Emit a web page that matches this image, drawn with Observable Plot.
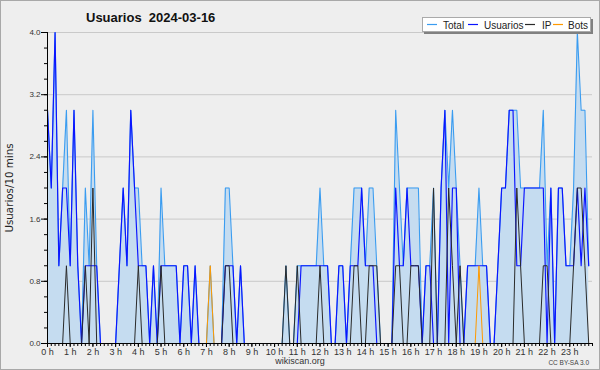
<!DOCTYPE html>
<html><head><meta charset="utf-8">
<script src="https://cdn.jsdelivr.net/npm/d3@7"></script>
<script src="https://cdn.jsdelivr.net/npm/@observablehq/plot@0.6"></script>
<style>
html,body{margin:0;padding:0;background:#eeeeee;}
#chart{width:600px;height:370px;}
svg{display:block;}
</style></head><body><div id="chart"></div>
<script>
// 10-minute intervals, 144 per day
const total = [
3,2,4,1,2,3,1,3,1,0, 2,1,3,1,0,0,0,0,0,1, 2,1,3,2,2,1,1,0,1,0,
2,1,1,1,1,0,1,1,0,1, 0,0,0,1,0,0,0,2,2,1, 0,1,0,0,0,0,0,0,0,0,
0,0,0,1,0,0,1,1,1,1, 1,1,2,1,1,0,0,1,1,0, 1,2,2,2,1,2,2,1,0,0,
0,0,3,2,1,2,2,2,2,0, 1,1,2,0,2,3,2,3,2,1, 0,1,1,1,2,1,1,0,0,1,
2,2,3,3,3,2,2,2,2,2, 2,3,1,2,0,2,2,1,1,2, 4,3,3,1];
const usuarios = [
3,2,4,1,2,2,1,3,1,0, 1,1,1,1,0,0,0,0,0,1, 2,1,3,2,1,1,1,0,1,0,
1,1,1,1,1,0,1,1,0,1, 0,0,0,0,0,0,0,1,1,1, 0,1,0,0,0,0,0,0,0,0,
0,0,0,0,0,0,0,1,1,1, 1,1,1,1,1,0,0,1,1,0, 1,1,1,2,1,1,1,0,0,0,
0,0,2,1,1,2,1,1,1,0, 1,1,0,0,2,3,0,2,2,0, 0,1,1,1,1,1,1,0,0,1,
2,2,3,3,1,1,2,2,2,2, 2,2,0,2,0,2,2,1,1,1, 2,1,2,1];
const ip = [
0,0,0,0,0,1,0,0,0,0, 1,0,2,0,0,0,0,0,0,0, 0,0,0,0,1,0,0,0,0,0,
1,0,0,0,0,0,0,0,0,0, 0,0,0,0,0,0,0,1,1,0, 0,0,0,0,0,0,0,0,0,0,
0,0,0,1,0,0,1,0,0,0, 0,0,1,0,0,0,0,0,0,0, 0,1,1,0,0,1,1,1,0,0,
0,0,1,1,0,0,1,1,1,0, 0,0,2,0,0,0,2,1,0,1, 0,0,0,0,0,0,0,0,0,0,
0,0,0,0,2,1,0,0,0,0, 0,1,1,0,0,0,0,0,0,1, 2,2,1,0];
const bots = [
0,0,0,0,0,0,0,0,0,0, 0,0,0,0,0,0,0,0,0,0, 0,0,0,0,0,0,0,0,0,0,
0,0,0,0,0,0,0,0,0,0, 0,0,0,1,0,0,0,0,0,0, 0,0,0,0,0,0,0,0,0,0,
0,0,0,0,0,0,0,0,0,0, 0,0,0,0,0,0,0,0,0,0, 0,0,0,0,0,0,0,0,0,0,
0,0,0,0,0,0,0,0,0,0, 0,0,0,0,0,0,0,0,0,0, 0,0,0,0,1,0,0,0,0,0,
0,0,0,0,0,0,0,0,0,0, 0,0,0,0,0,0,0,0,0,0, 0,0,0,0];
const hours = d3.range(0, 24);
const hourLabels = hours.map(h => h + " h");
const yTicks = [0, 0.8, 1.6, 2.4, 3.2, 4.0];
const seriesNames = ["Total", "Usuarios", "IP", "Bots"];
const seriesColors = ["#3a9cf0", "#0a14ff", "#2a2a2a", "#ff9a00"];

const rows = total.map((v, i) => ({t: i / 6, total: v, usuarios: usuarios[i], ip: ip[i], bots: bots[i]}));
const FONT = "'Liberation Sans', Arial, sans-serif";
const FONT2 = "'DejaVu Sans', sans-serif";

const chart = Plot.plot({
  width: 600, height: 370,
  marginLeft: 47, marginRight: 8, marginTop: 32, marginBottom: 27,
  style: {background: "#eeeeee", fontFamily: FONT, color: "#333", overflow: "visible"},
  x: {domain: [0, 24], axis: null},
  y: {domain: [0, 4], axis: null},
  marks: [
    Plot.gridY(yTicks.slice(1), {stroke: "#c9c9c9", strokeOpacity: 1, strokeWidth: 1}),
    Plot.areaY(rows, {x: "t", y: "total", fill: "#c5dcf0", fillOpacity: 1}),
    Plot.lineY(rows, {x: "t", y: "total", stroke: seriesColors[0], strokeWidth: 1.1}),
    Plot.lineY(rows, {x: "t", y: "usuarios", stroke: seriesColors[1], strokeWidth: 1.15}),
    Plot.lineY(rows, {x: "t", y: "ip", stroke: seriesColors[2], strokeWidth: 1}),
    Plot.lineY(rows, {x: "t", y: "bots", stroke: seriesColors[3], strokeWidth: 1}),
    Plot.ruleX([0], {stroke: "#000"}),
    Plot.ruleY([0], {stroke: "#000"}),
    Plot.axisY({ticks: d3.range(0, 21).map(i => i * 0.2), tickSize: 3, text: null, label: null, stroke: "#000"}),
    Plot.axisY({ticks: yTicks, tickSize: 6, tickPadding: 1, tickFormat: d => d.toFixed(1), label: null, fontSize: 8, fill: "#333", stroke: "#000"}),
    Plot.axisX({ticks: d3.range(0, 145).map(i => i / 6), tickSize: 3, text: null, label: null, stroke: "#000"}),
    Plot.axisX({ticks: hours, tickSize: 4, tickPadding: 1, tickFormat: d => hourLabels[d], label: null, fontSize: 9, fill: "#333", stroke: "#000"})
  ]
});
document.getElementById("chart").appendChild(chart);

const svg = d3.select(chart);
// outer border
svg.append("rect").attr("x", 0.5).attr("y", 0.5).attr("width", 599).attr("height", 369)
  .attr("fill", "none").attr("stroke", "#a8a8a8");
// title
svg.append("text").attr("x", 86).attr("y", 22).attr("text-anchor", "start").attr("font-family", FONT).attr("font-weight", "bold")
  .attr("font-size", 13).attr("fill", "#111").text("Usuarios  2024-03-16");
// y label
svg.append("text").attr("transform", "translate(13,188) rotate(-90)").attr("text-anchor", "middle")
  .attr("font-family", FONT2).attr("font-size", 10.3).attr("fill", "#222").text("Usuarios/10 mins");
// footer
svg.append("text").attr("x", 300).attr("y", 364).attr("text-anchor", "middle").attr("font-family", FONT)
  .attr("font-size", 9).attr("fill", "#333").text("wikiscan.org");
svg.append("text").attr("x", 589).attr("y", 365).attr("text-anchor", "end").attr("font-family", FONT)
  .attr("font-size", 6.5).attr("fill", "#444").text("CC BY-SA 3.0");
// legend
const lg = svg.append("g");
lg.append("rect").attr("x", 424).attr("y", 19).attr("width", 169).attr("height", 15).attr("fill", "#808080");
lg.append("rect").attr("x", 422.5).attr("y", 17.5).attr("width", 168).attr("height", 14).attr("fill", "#fff").attr("stroke", "#aaa");
const lx = [[427, 443], [468, 484], [525, 542], [553, 568]];
seriesNames.forEach((n, k) => {
  lg.append("line").attr("x1", lx[k][0]).attr("x2", lx[k][0] + 10).attr("y1", 24.5).attr("y2", 24.5)
    .attr("stroke", seriesColors[k]).attr("stroke-width", 1.2);
  lg.append("text").attr("x", lx[k][1]).attr("y", 28.5).attr("text-anchor", "start").attr("font-family", FONT).attr("font-size", 10)
    .attr("fill", "#222").text(n);
});
</script>
</body></html>
